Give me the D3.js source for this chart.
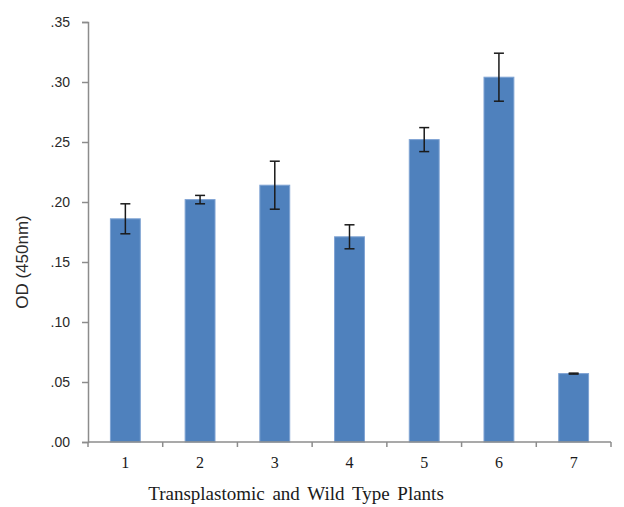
<!DOCTYPE html>
<html lang="en">
<head>
    <meta charset="UTF-8">
    <title>OD (450nm)</title>
    <script src="https://d3js.org/d3.v7.min.js"></script>
    <style>
        body {
            margin: 0;
            padding: 0;
            background: white;
        }
        .y-axis text {
            font-family: 'Liberation Sans', 'DejaVu Sans', sans-serif;
            font-size: 14px;
            fill: #2a2a2a;
        }
        .x-axis text {
            font-family: 'Liberation Serif', serif;
            font-size: 16px;
            fill: #1a1a1a;
        }
        .axis path, .axis line {
            stroke: #8c8c8c;
            stroke-width: 1.5;
        }
    </style>
</head>
<body>
    <div id="chart"></div>
    <script>
        const plants = ["1", "2", "3", "4", "5", "6", "7"];
        const odValues = [0.186, 0.202, 0.214, 0.171, 0.252, 0.304, 0.057];
        const odErrors = [0.0125, 0.0035, 0.020, 0.010, 0.010, 0.020, 0.0004];
        const yTicks = [0, 0.05, 0.10, 0.15, 0.20, 0.25, 0.30, 0.35];

        const width = 624, height = 507;
        const margin = { top: 22, right: 13, bottom: 65, left: 88 };

        const svg = d3.select("#chart")
            .append("svg")
            .attr("width", width)
            .attr("height", height);

        const x = d3.scaleBand()
            .domain(plants)
            .range([margin.left, width - margin.right])
            .paddingInner(0.6)
            .paddingOuter(0.3);

        const y = d3.scaleLinear()
            .domain([0, 0.35])
            .range([height - margin.bottom, margin.top]);

        // bars
        svg.selectAll("rect.bar")
            .data(plants)
            .enter().append("rect")
            .attr("class", "bar")
            .attr("x", d => x(d))
            .attr("width", x.bandwidth())
            .attr("y", (d, i) => y(odValues[i]))
            .attr("height", (d, i) => y(0) - y(odValues[i]))
            .attr("fill", "#4f81bd")
            .attr("stroke", "#7fa3d3")
            .attr("stroke-width", 1);

        // error bars
        const err = svg.selectAll("g.err")
            .data(plants)
            .enter().append("g")
            .attr("class", "err")
            .attr("stroke", "#1a1a1a")
            .attr("stroke-width", 1.5);

        const cx = d => x(d) + x.bandwidth() / 2;
        err.append("line")
            .attr("x1", cx).attr("x2", cx)
            .attr("y1", (d, i) => y(odValues[i] + odErrors[i]))
            .attr("y2", (d, i) => y(odValues[i] - odErrors[i]));
        err.append("line")
            .attr("x1", d => cx(d) - 5).attr("x2", d => cx(d) + 5)
            .attr("y1", (d, i) => y(odValues[i] + odErrors[i]))
            .attr("y2", (d, i) => y(odValues[i] + odErrors[i]));
        err.append("line")
            .attr("x1", d => cx(d) - 5).attr("x2", d => cx(d) + 5)
            .attr("y1", (d, i) => y(odValues[i] - odErrors[i]))
            .attr("y2", (d, i) => y(odValues[i] - odErrors[i]));

        // y axis
        svg.append("g")
            .attr("class", "axis y-axis")
            .attr("transform", `translate(${margin.left},0)`)
            .call(d3.axisLeft(y)
                .tickValues(yTicks)
                .tickSize(6)
                .tickPadding(12)
                .tickFormat(d => d3.format(".2f")(d).replace(/^0/, "")));

        // x axis: ticks at band boundaries
        const xAxis = svg.append("g")
            .attr("class", "axis x-axis")
            .attr("transform", `translate(0,${y(0)})`)
            .call(d3.axisBottom(x).tickSize(0).tickPadding(15));
        xAxis.select(".domain").attr("d", `M${margin.left},0H${width - margin.right}`);

        const step = x.step();
        const bounds = d3.range(plants.length + 1).map(i => x(plants[0]) - step * x.paddingInner() / 2 + i * step);
        xAxis.selectAll("line.bound")
            .data(bounds)
            .enter().append("line")
            .attr("class", "bound")
            .attr("x1", d => d).attr("x2", d => d)
            .attr("y1", 0).attr("y2", 5);

        // axis titles
        svg.append("text")
            .attr("transform", "translate(28,262) rotate(-90)")
            .attr("text-anchor", "middle")
            .style("font-family", "'Liberation Sans', sans-serif")
            .style("font-size", "17px")
            .style("fill", "#2a2a2a")
            .text("OD (450nm)");

        svg.append("text")
            .attr("x", 296)
            .attr("y", 500)
            .attr("text-anchor", "middle")
            .style("font-family", "'Liberation Serif', serif")
            .style("font-size", "19px")
            .style("word-spacing", "3px")
            .style("fill", "#1a1a1a")
            .text("Transplastomic and Wild Type Plants");
    </script>
</body>
</html>
